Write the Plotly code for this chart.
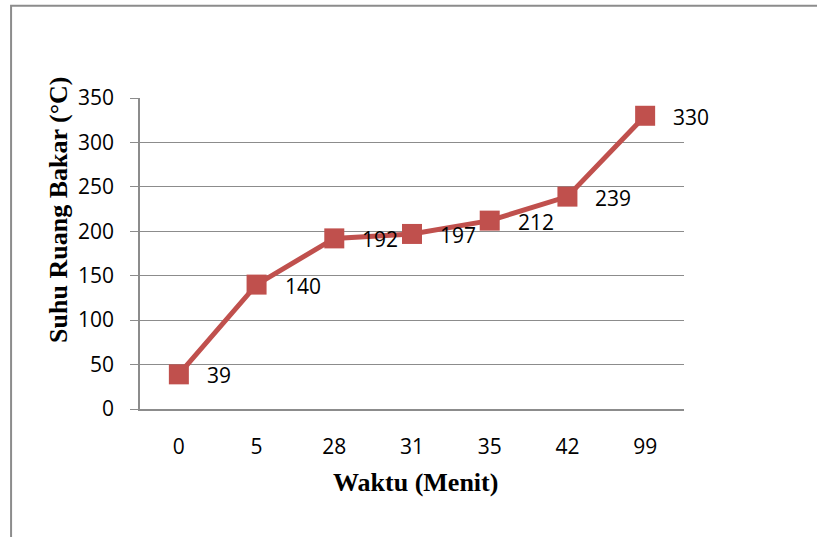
import plotly.graph_objects as go

# Waktu pembakaran (menit) dan suhu ruang bakar (°C)
waktu = ["0", "5", "28", "31", "35", "42", "99"]
suhu = [39, 140, 192, 197, 212, 239, 330]
y_ticks = [0, 50, 100, 150, 200, 250, 300, 350]

merah = "#C0504D"
abu = "#8C8C8C"
font_angka = "Open Sans, Lato, sans-serif"
font_judul = "Liberation Serif, Times New Roman, serif"

fig = go.Figure()
fig.add_trace(go.Scatter(
    x=waktu,
    y=suhu,
    mode="lines+markers",
    line=dict(color=merah, width=5),
    marker=dict(symbol="square", size=20, color=merah),
    showlegend=False,
))

# Label nilai di sebelah kanan setiap titik (posisi kategori ke-i)
for i, s in enumerate(suhu):
    fig.add_annotation(
        x=i, y=s, xref="x", yref="y",
        text=str(s), showarrow=False,
        xanchor="left", yanchor="middle",
        xshift=26, yshift=-1,
        font=dict(family=font_angka, size=21, color="#000000"),
    )

# Judul sumbu
fig.add_annotation(
    x=-0.149, y=0.640, xref="paper", yref="paper",
    text="<b>Suhu Ruang Bakar (°C)</b>", textangle=-90, showarrow=False,
    xanchor="center", yanchor="middle",
    font=dict(family=font_judul, size=26, color="#000000"),
)
fig.add_annotation(
    x=0.507, y=-0.235, xref="paper", yref="paper",
    text="<b>Waktu (Menit)</b>", showarrow=False,
    xanchor="center", yanchor="middle",
    font=dict(family=font_judul, size=26, color="#000000"),
)

# Bingkai luar grafik
fig.add_shape(
    type="rect", xref="paper", yref="paper",
    x0=-0.237, x1=1.30, y0=-0.5, y1=1.297,
    line=dict(color=abu, width=2), fillcolor="rgba(0,0,0,0)", layer="below",
)

fig.update_layout(
    width=817, height=537,
    margin=dict(l=140, r=133, t=98, b=128),
    paper_bgcolor="white",
    plot_bgcolor="white",
    xaxis=dict(
        type="category",
        range=[-0.5, 6.5],
        showgrid=False,
        showline=True, linecolor=abu, linewidth=1.5,
        ticks="",
        ticklabelstandoff=18,
        tickfont=dict(family=font_angka, size=21, color="#000000"),
    ),
    yaxis=dict(
        range=[0, 350],
        tickvals=y_ticks,
        showgrid=True, gridcolor=abu, gridwidth=1,
        showline=True, linecolor=abu, linewidth=1.5,
        ticks="outside", ticklen=8, tickcolor=abu, tickwidth=1,
        ticklabelstandoff=12,
        zeroline=False,
        tickfont=dict(family=font_angka, size=21, color="#000000"),
    ),
)

fig.write_html("out.html")
